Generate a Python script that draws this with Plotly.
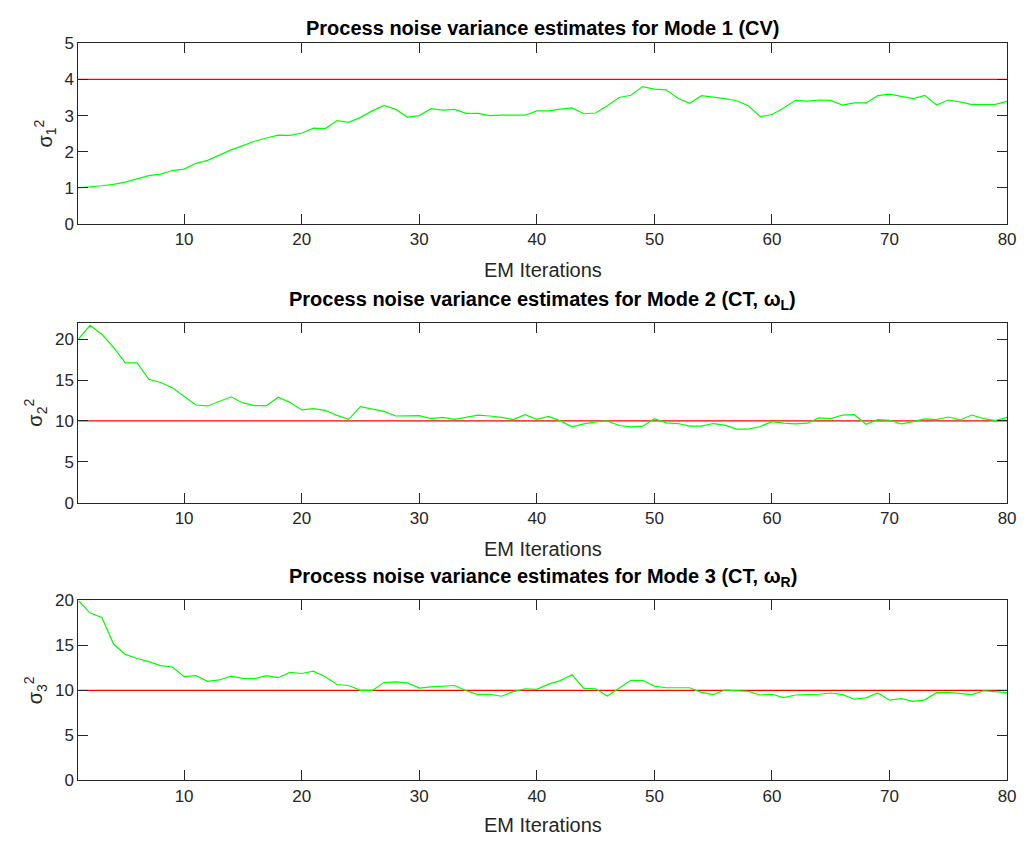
import plotly.graph_objects as go

iterations = list(range(1, 81))

sigma1 = [1.0, 1.02, 1.06, 1.1, 1.16, 1.25, 1.34, 1.38, 1.48, 1.52,
          1.68, 1.76, 1.91, 2.05, 2.17, 2.29, 2.38, 2.46, 2.45, 2.51,
          2.65, 2.64, 2.86, 2.81, 2.95, 3.13, 3.28, 3.17, 2.96, 3.0,
          3.19, 3.15, 3.17, 3.06, 3.06, 3.0, 3.01, 3.02, 3.01, 3.13,
          3.13, 3.18, 3.21, 3.05, 3.07, 3.27, 3.5, 3.56, 3.8, 3.73,
          3.71, 3.48, 3.34, 3.55, 3.52, 3.47, 3.41, 3.27, 2.97, 3.03,
          3.21, 3.42, 3.4, 3.43, 3.42, 3.29, 3.35, 3.35, 3.55, 3.59,
          3.53, 3.47, 3.56, 3.29, 3.43, 3.38, 3.3, 3.31, 3.31, 3.39]

sigma2 = [20.0, 21.7, 20.6, 19.0, 17.1, 17.1, 15.1, 14.7, 14.06, 12.95,
          11.95, 11.83, 12.4, 12.95, 12.2, 11.87, 11.87, 12.9, 12.27, 11.35,
          11.5, 11.3, 10.68, 10.2, 11.75, 11.47, 11.16, 10.6, 10.6, 10.64,
          10.28, 10.44, 10.2, 10.48, 10.72, 10.6, 10.44, 10.16, 10.76, 10.2,
          10.56, 10.0, 9.28, 9.64, 9.88, 10.0, 9.44, 9.28, 9.36, 10.28,
          9.76, 9.68, 9.36, 9.36, 9.68, 9.48, 9.0, 9.0, 9.32, 9.92,
          9.72, 9.64, 9.72, 10.36, 10.28, 10.72, 10.76, 9.6, 10.16, 10.08,
          9.64, 9.92, 10.24, 10.16, 10.48, 10.12, 10.72, 10.28, 10.04, 10.44]

sigma3 = [20.0, 18.6, 18.1, 15.15, 14.0, 13.55, 13.2, 12.75, 12.6, 11.52,
          11.63, 11.01, 11.16, 11.59, 11.34, 11.3, 11.63, 11.41, 11.99, 11.88,
          12.14, 11.52, 10.65, 10.54, 10.0, 10.0, 10.87, 10.94, 10.83, 10.25,
          10.4, 10.5, 10.54, 9.96, 9.53, 9.57, 9.35, 9.86, 10.18, 10.11,
          10.69, 11.09, 11.74, 10.22, 10.18, 9.38, 10.29, 11.12, 11.12, 10.47,
          10.29, 10.29, 10.29, 9.78, 9.53, 10.04, 9.96, 9.89, 9.49, 9.57,
          9.2, 9.49, 9.53, 9.57, 9.71, 9.53, 9.02, 9.17, 9.71, 8.91,
          9.09, 8.77, 8.95, 9.75, 9.78, 9.67, 9.53, 9.96, 9.82, 9.75]

true_values = [4, 10, 10]
estimates = [sigma1, sigma2, sigma3]
titles = ["Process noise variance estimates for Mode 1 (CV)",
          "Process noise variance estimates for Mode 2 (CT, ω<sub>L</sub>)",
          "Process noise variance estimates for Mode 3 (CT, ω<sub>R</sub>)"]
ylabels = ["σ<sub>1</sub><sup>2</sup>", "σ<sub>2</sub><sup>2</sup>", "σ<sub>3</sub><sup>2</sup>"]
y_ranges = [[0, 5], [0, 22], [0, 20]]
y_ticks = [[0, 1, 2, 3, 4, 5], [0, 5, 10, 15, 20], [0, 5, 10, 15, 20]]
x_ticks = [10, 20, 30, 40, 50, 60, 70, 80]
xlabel = "EM Iterations"

W, H = 1028, 848
left_px, right_px = 79, 1016
panels_px = [(35, 220), (321, 505), (605, 789)]
title_y_px = [19, 298, 582]
xlabel_y_px = [267, 552, 835]

fig = go.Figure()
AX = "#262626"
FONT = "Liberation Sans, Arial, sans-serif"

for k in range(3):
    xa = "x" if k == 0 else f"x{k+1}"
    ya = "y" if k == 0 else f"y{k+1}"
    fig.add_trace(go.Scatter(x=iterations, y=[true_values[k]] * len(iterations),
                             mode="lines", line=dict(color="#ff0000", width=1.2),
                             xaxis=xa, yaxis=ya, showlegend=False, hoverinfo="skip"))
    fig.add_trace(go.Scatter(x=iterations, y=estimates[k], mode="lines",
                             line=dict(color="#00ff00", width=1.2),
                             xaxis=xa, yaxis=ya, showlegend=False))
    top, bot = panels_px[k]
    dom_y = [1 - bot / H, 1 - top / H]
    suffix = "" if k == 0 else str(k + 1)
    axis_common = dict(showgrid=False, zeroline=False, showline=True, linecolor=AX,
                       linewidth=1, mirror="ticks", ticks="inside", ticklen=10,
                       tickcolor=AX, tickwidth=1,
                       tickfont=dict(family=FONT, size=17, color=AX))
    fig.layout["xaxis" + suffix] = dict(domain=[left_px / W, right_px / W],
                                        range=[1, 80], tickvals=x_ticks,
                                        anchor="y" + suffix, **axis_common)
    fig.layout["yaxis" + suffix] = dict(domain=dom_y, range=y_ranges[k],
                                        tickvals=y_ticks[k], anchor="x" + suffix,
                                        title=dict(text=ylabels[k], standoff=6,
                                                   font=dict(family=FONT, size=20, color=AX)),
                                        **axis_common)
    fig.add_annotation(text="<b>" + titles[k] + "</b>", xref="paper", yref="paper",
                       x=(left_px + right_px) / 2 / W, y=1 - title_y_px[k] / H,
                       xanchor="center", yanchor="middle", showarrow=False,
                       font=dict(family=FONT, size=20, color="#000000"))
    fig.add_annotation(text=xlabel, xref="paper", yref="paper",
                       x=(left_px + right_px) / 2 / W, y=1 - xlabel_y_px[k] / H,
                       xanchor="center", yanchor="middle", showarrow=False,
                       font=dict(family=FONT, size=20, color=AX))

fig.update_layout(width=W, height=H, margin=dict(l=0, r=0, t=0, b=0),
                  plot_bgcolor="white", paper_bgcolor="white", hovermode=False)
fig.write_html("out.html", config={"displayModeBar": False},
               post_script="document.body.style.margin='0';document.body.style.overflow='hidden';")
